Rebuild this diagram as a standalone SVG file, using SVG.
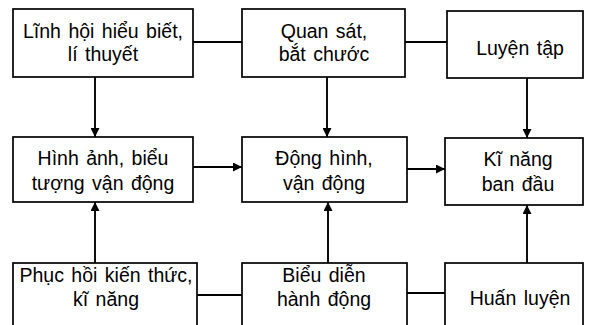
<svg xmlns="http://www.w3.org/2000/svg" width="593" height="325" viewBox="0 0 593 325">
<defs>
<marker id="ah" viewBox="0 0 10 10" refX="10" refY="5" markerWidth="11" markerHeight="9" markerUnits="userSpaceOnUse" orient="auto">
<path d="M0,0 L10,5 L0,10 z" fill="#000"/>
</marker>
<style>
.b{fill:#fff;stroke:#000;stroke-width:1.7}
.t{font-family:"Liberation Sans",Arial,sans-serif;font-size:19.5px;fill:#000;text-anchor:middle;word-spacing:2px}
.c{stroke:#000;stroke-width:1.9;fill:none}
.a{stroke:#000;stroke-width:1.9;fill:none;marker-end:url(#ah)}
</style>
</defs>
<rect width="593" height="325" fill="#fff"/>
<g id="connectors">
<line class="c" x1="193" y1="42" x2="242" y2="42"/>
<line class="c" x1="405" y1="42" x2="447" y2="42"/>
<line class="c" x1="197" y1="295" x2="242" y2="295"/>
<line class="c" x1="407" y1="293" x2="445" y2="293"/>
<line class="a" x1="95" y1="77" x2="95" y2="137"/>
<line class="a" x1="327" y1="77" x2="327" y2="137"/>
<line class="a" x1="527" y1="78" x2="527" y2="138"/>
<line class="a" x1="95" y1="263" x2="95" y2="202"/>
<line class="a" x1="328" y1="263" x2="328" y2="202"/>
<line class="a" x1="527" y1="263" x2="527" y2="205"/>
<line class="a" x1="193" y1="167" x2="242" y2="167"/>
<line class="a" x1="407" y1="169" x2="445" y2="169"/>
</g>
<g id="n1"><rect class="b" x="13" y="9" width="180" height="68"/>
<text class="t" x="103" y="38">Lĩnh hội hiểu biết,</text><text class="t" x="103" y="61">lí thuyết</text></g>
<g id="n2"><rect class="b" x="242" y="9" width="163" height="68"/>
<text class="t" x="324" y="38">Quan sát,</text><text class="t" x="324" y="61">bắt chước</text></g>
<g id="n3"><rect class="b" x="447" y="11" width="136" height="67"/>
<text class="t" x="520" y="55">Luyện tập</text></g>
<g id="n4"><rect class="b" x="13" y="137" width="180" height="65"/>
<text class="t" x="103" y="165">Hình ảnh, biểu</text><text class="t" x="103" y="190">tượng vận động</text></g>
<g id="n5"><rect class="b" x="242" y="137" width="165" height="65"/>
<text class="t" x="324" y="165">Động hình,</text><text class="t" x="324" y="190">vận động</text></g>
<g id="n6"><rect class="b" x="445" y="138" width="138" height="67"/>
<text class="t" x="518" y="166">Kĩ năng</text><text class="t" x="518" y="191">ban đầu</text></g>
<g id="n7"><rect class="b" x="13" y="263" width="184" height="80"/>
<text class="t" x="106" y="282">Phục hồi kiến thức,</text><text class="t" x="106" y="306">kĩ năng</text></g>
<g id="n8"><rect class="b" x="242" y="263" width="165" height="80"/>
<text class="t" x="324" y="282">Biểu diễn</text><text class="t" x="324" y="306">hành động</text></g>
<g id="n9"><rect class="b" x="445" y="263" width="138" height="80"/>
<text class="t" x="520" y="305">Huấn luyện</text></g>
</svg>
